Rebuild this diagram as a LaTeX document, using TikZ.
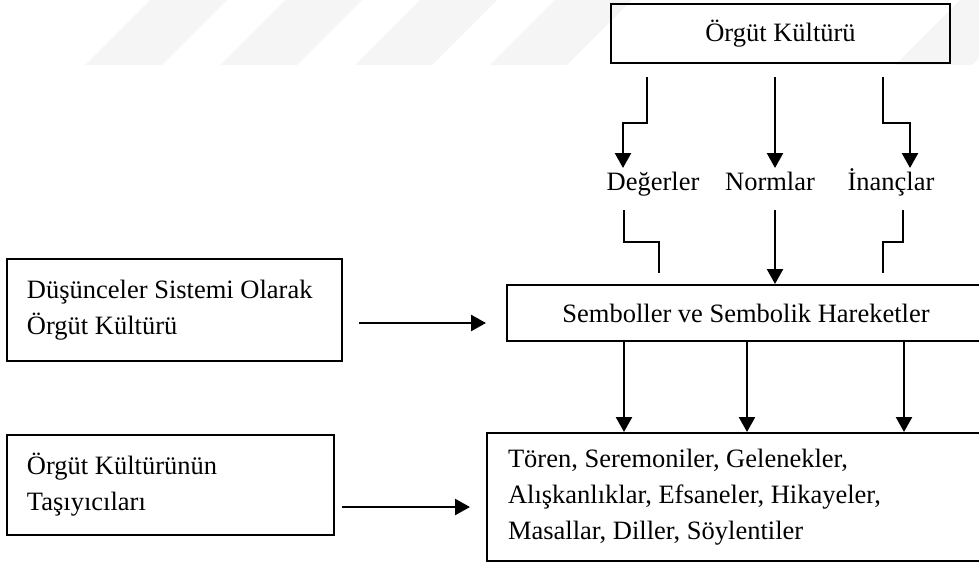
\documentclass[tikz,border=0pt]{standalone}
\usepackage{fontspec}
\setmainfont{Liberation Serif}
\usetikzlibrary{arrows.meta}
\begin{document}
\begin{tikzpicture}[x=1pt,y=-1pt,
  every node/.style={font=\fontsize{26.5}{36}\selectfont},
  boxnode/.style={draw=black,line width=2pt,rectangle,inner sep=0pt},
  lbl/.style={inner sep=0pt,anchor=base},
  conn/.style={line width=2.5pt},
  arr/.style={conn,-{Triangle[width=16pt,length=15pt]}},
  wm/.style={fill=black!4,draw=none}]
\useasboundingbox (0,0) rectangle (979,563);
\clip (0,0) rectangle (979,563);
% faint watermark stripes
\foreach \s in {110,245,380,515,920}{
  \fill[wm] (\s-25,65) -- (\s+52,65) -- (\s+117,0) -- (\s+40,0) -- cycle;
}
% boxes
\node[boxnode,minimum width=339pt,minimum height=59pt] (top) at (780.5,33.5) {Örgüt Kültürü};
\node[lbl] (deg) at (653,190) {Değerler};
\node[lbl] (norm) at (770,190) {Normlar};
\node[lbl] (inan) at (891,190) {İnançlar};
\node[boxnode,minimum width=478pt,minimum height=56pt] (semb) at (746,313) {Semboller ve Sembolik Hareketler};
\node[boxnode,minimum width=335pt,minimum height=102pt,align=flush left,text width=295pt] (dus) at (174.5,310)
  {Düşünceler Sistemi Olarak\\Örgüt Kültürü};
\node[boxnode,minimum width=327pt,minimum height=100pt,align=flush left,text width=287pt] (tas) at (170.5,485)
  {Örgüt Kültürünün\\Taşıyıcıları};
\node[boxnode,minimum width=498pt,minimum height=128pt,align=flush left,text width=456pt] (tor) at (736,497)
  {Tören, Seremoniler, Gelenekler,\\Alışkanlıklar, Efsaneler, Hikayeler,\\Masallar, Diller, Söylentiler};
% coordinates
\coordinate (a1) at (647,77);
\coordinate (a2) at (623,168);
\coordinate (b1) at (775,77);
\coordinate (b2) at (775,168);
\coordinate (c1) at (883,77);
\coordinate (c2) at (910,168);
\coordinate (d1) at (624,210);
\coordinate (d2) at (659,273);
\coordinate (e1) at (775,210);
\coordinate (f1) at (903,210);
\coordinate (f2) at (883,273);
\coordinate (g1) at (359,323);
\coordinate (g2) at (486,323);
\coordinate (h1) at (342,507);
\coordinate (h2) at (470,507);
\coordinate (s1) at (624,341);
\coordinate (s2) at (747,341);
\coordinate (s3) at (904,341);
% upper arrows
\draw[arr] (a1) -- (647,123) -- (623,123) -- (a2);
\draw[arr] (b1) -- (b2);
\draw[arr] (c1) -- (883,123) -- (910,123) -- (c2);
% lower connectors
\draw[conn] (d1) -- (624,242) -- (659,242) -- (d2);
\draw[arr] (e1) -- (e1 |- semb.north);
\draw[conn] (f1) -- (903,242) -- (883,242) -- (f2);
% down arrows
\draw[arr] (s1) -- (s1 |- tor.north);
\draw[arr] (s2) -- (s2 |- tor.north);
\draw[arr] (s3) -- (s3 |- tor.north);
% side arrows
\draw[arr] (g1) -- (g2);
\draw[arr] (h1) -- (h2);
\end{tikzpicture}
\end{document}
